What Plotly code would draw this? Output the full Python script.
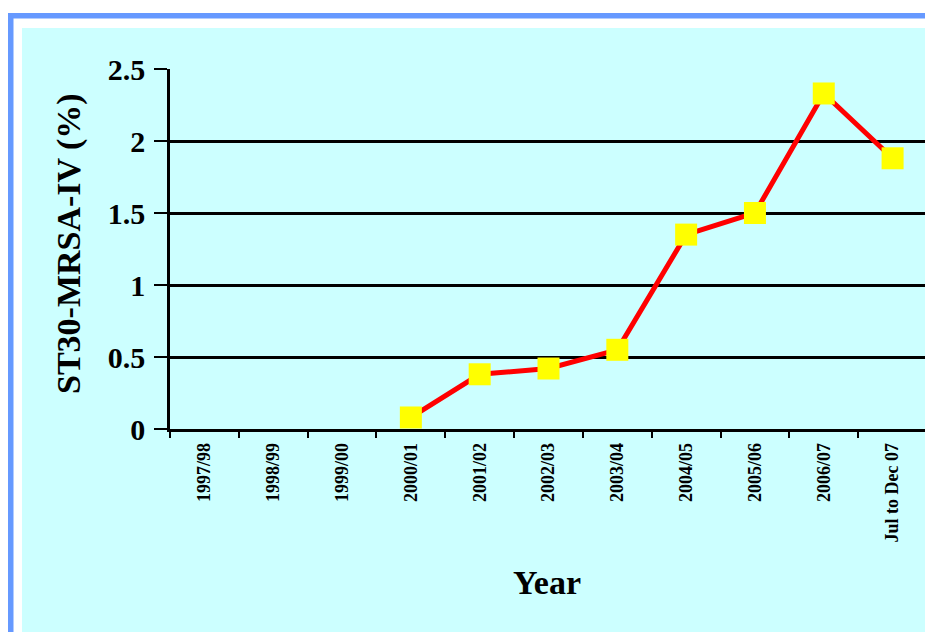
import plotly.graph_objects as go

categories = ["1997/98", "1998/99", "1999/00", "2000/01", "2001/02", "2002/03",
              "2003/04", "2004/05", "2005/06", "2006/07", "Jul to Dec 07"]
values = [None, None, None, 0.08, 0.38, 0.42, 0.55, 1.35, 1.50, 2.33, 1.88]
y_ticks = [0, 0.5, 1, 1.5, 2, 2.5]
y_tick_labels = ["0", "0.5", "1", "1.5", "2", "2.5"]

OFF = 8  # browser body margin
W, H = 933 - OFF, 632 - OFF
L, R, T, B = 170 - OFF, 6, 69 - OFF, 203
pw, ph = W - L - R, H - T - B

def px(X):
    return (X - OFF - L) / pw

def py(Y):
    return (H - B - (Y - OFF)) / ph

font = "Liberation Serif"

fig = go.Figure()
fig.add_trace(go.Scatter(
    x=categories, y=values, mode="lines+markers",
    line=dict(color="#FF0000", width=5),
    marker=dict(symbol="square", size=22, color="#FFFF00", line=dict(width=0)),
    connectgaps=False, showlegend=False, cliponaxis=False,
))

shapes = [
    dict(type="rect", xref="paper", yref="paper", x0=px(22), x1=px(945), y0=py(28), y1=py(645),
         fillcolor="#CCFFFF", line=dict(width=0), layer="below"),
    dict(type="rect", xref="paper", yref="paper", x0=px(7), x1=px(945), y0=py(13), y1=py(18.5),
         fillcolor="#6699FF", line=dict(width=0), layer="below"),
    dict(type="rect", xref="paper", yref="paper", x0=px(7), x1=px(13.5), y0=py(13), y1=py(645),
         fillcolor="#6699FF", line=dict(width=0), layer="below"),
]

fig.update_layout(
    width=W, height=H,
    margin=dict(l=L, r=R, t=T, b=B, pad=0),
    paper_bgcolor="white", plot_bgcolor="#CCFFFF",
    shapes=shapes,
    font=dict(family=font, color="black"),
    xaxis=dict(
        type="category", categoryorder="array", categoryarray=categories,
        range=[-0.5, 10.5], tickson="boundaries",
        ticks="outside", ticklen=6, tickwidth=2, tickcolor="black",
        showline=True, linecolor="black", linewidth=2.5,
        showgrid=False, zeroline=False, tickangle=-90,
        tickfont=dict(family=font, size=18, color="black", weight="bold"),
        ticklabelstandoff=4,
    ),
    yaxis=dict(
        range=[0, 2.5], tickvals=y_ticks, ticktext=y_tick_labels,
        ticks="outside", ticklen=13, tickwidth=2, tickcolor="black",
        showline=True, linecolor="black", linewidth=2.5,
        showgrid=True, gridcolor="black", gridwidth=2.5, zeroline=False,
        tickfont=dict(family=font, size=30, color="black", weight="bold"),
        ticklabelstandoff=3,
    ),
    annotations=[
        dict(text="<b>ST30-MRSA-IV (%)</b>", xref="paper", yref="paper",
             x=px(69), y=py(244), textangle=-90, showarrow=False,
             font=dict(family=font, size=34, color="black"),
             xanchor="center", yanchor="middle"),
        dict(text="<b>Year</b>", xref="paper", yref="paper",
             x=px(547), y=py(582), showarrow=False,
             font=dict(family=font, size=34, color="black"),
             xanchor="center", yanchor="middle"),
    ],
)

fig.write_html("out.html")
